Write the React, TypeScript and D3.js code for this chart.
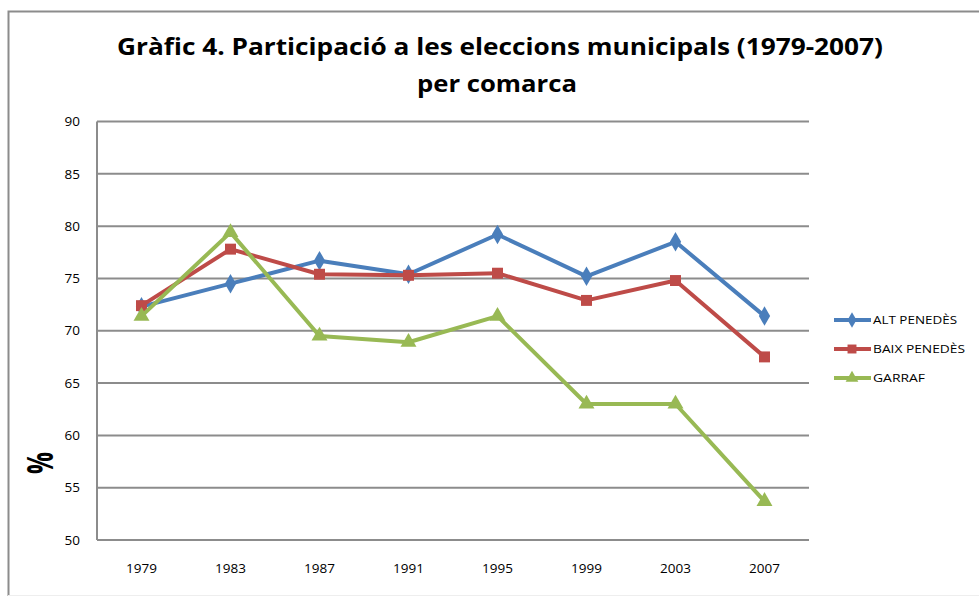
import React, { useEffect, useRef } from "react";
import * as d3 from "d3";

// data
const years = ["1979", "1983", "1987", "1991", "1995", "1999", "2003", "2007"];
const altPenedes = [72.3, 74.5, 76.7, 75.4, 79.2, 75.2, 78.5, 71.4];
const baixPenedes = [72.4, 77.8, 75.4, 75.3, 75.5, 72.9, 74.8, 67.5];
const garraf = [71.4, 79.4, 69.5, 68.9, 71.4, 63.0, 63.0, 53.7];
const yTicks = [50, 55, 60, 65, 70, 75, 80, 85, 90];

const seriesNames = ["ALT PENEDÈS", "BAIX PENEDÈS", "GARRAF"];
const colors = ["#4a7ebb", "#be4b48", "#98b954"];
const symbols = [d3.symbolDiamond, d3.symbolSquare, d3.symbolTriangle];

const App = () => {
  const ref = useRef<SVGSVGElement>(null);

  useEffect(() => {
    const width = 979;
    const height = 596;
    const margin = { top: 121.5, right: 170, bottom: 56, left: 97 };
    const svg = d3.select(ref.current);
    svg.selectAll("*").remove();
    svg.attr("width", width).attr("height", height);

    const font = "'Open Sans', 'Noto Sans', sans-serif";

    // outer frame
    svg.append("path")
      .attr("d", `M8.5,${height} V11.5 H${width}`)
      .attr("fill", "none")
      .attr("stroke", "#8c8c8c")
      .attr("stroke-width", 2);
    svg.append("line")
      .attr("x1", 8).attr("x2", width).attr("y1", 595.5).attr("y2", 595.5)
      .attr("stroke", "#eeeeee");

    // title
    const title = svg.append("text")
      .attr("text-anchor", "middle")
      .attr("font-family", font)
      .attr("font-weight", "bold")
      .attr("font-size", 23)
      .attr("fill", "#000");
    title.append("tspan").attr("x", 500).attr("y", 55)
      .attr("textLength", 766).attr("lengthAdjust", "spacingAndGlyphs")
      .text("Gràfic 4. Participació a les eleccions municipals (1979-2007)");
    title.append("tspan").attr("x", 497).attr("y", 92)
      .attr("textLength", 160).attr("lengthAdjust", "spacingAndGlyphs")
      .text("per comarca");

    const x = d3.scaleBand().domain(years).range([margin.left, width - margin.right]);
    const y = d3.scaleLinear().domain([50, 90]).range([height - margin.bottom, margin.top]);

    // gridlines
    svg.append("g").selectAll("line").data(yTicks).join("line")
      .attr("x1", margin.left).attr("x2", width - margin.right)
      .attr("y1", d => y(d)).attr("y2", d => y(d))
      .attr("stroke", "#8c8c8c").attr("stroke-width", 2);

    // y axis line
    svg.append("line")
      .attr("x1", margin.left).attr("x2", margin.left)
      .attr("y1", y(90)).attr("y2", y(50))
      .attr("stroke", "#8c8c8c").attr("stroke-width", 2);

    // y tick labels
    svg.append("g").selectAll("text").data(yTicks).join("text")
      .attr("x", 80).attr("y", d => y(d)).attr("dy", "0.35em")
      .attr("text-anchor", "end")
      .attr("font-family", font).attr("font-size", 13.5)
      .text(d => d);

    // x tick labels
    svg.append("g").selectAll("text").data(years).join("text")
      .attr("x", d => x(d)! + x.bandwidth() / 2).attr("y", 573)
      .attr("text-anchor", "middle")
      .attr("font-family", font).attr("font-size", 13.5)
      .text(d => d);

    // garbled y-axis title
    svg.append("text")
      .attr("transform", "translate(53,463) rotate(-90)")
      .attr("text-anchor", "middle")
      .attr("font-family", font).attr("font-weight", "bold").attr("font-size", 36)
      .attr("textLength", 22).attr("lengthAdjust", "spacingAndGlyphs")
      .text("%");

    const data = [altPenedes, baixPenedes, garraf];
    const line = d3.line<number>()
      .x((d, i) => x(years[i])! + x.bandwidth() / 2)
      .y(d => y(d));

    data.forEach((values, s) => {
      svg.append("path")
        .attr("d", line(values))
        .attr("fill", "none")
        .attr("stroke", colors[s])
        .attr("stroke-width", 4)
        .attr("stroke-linejoin", "round");
      svg.append("g").selectAll("path").data(values).join("path")
        .attr("transform", (d, i) => `translate(${x(years[i])! + x.bandwidth() / 2},${y(d)})`)
        .attr("d", d3.symbol(symbols[s], s === 1 ? 120 : 110)())
        .attr("fill", colors[s]);
    });

    // legend
    const legend = svg.append("g").attr("transform", "translate(834,320)");
    seriesNames.forEach((name, i) => {
      const row = legend.append("g").attr("transform", `translate(0,${i * 29})`);
      row.append("line")
        .attr("x1", 0).attr("x2", 37).attr("y1", 0).attr("y2", 0)
        .attr("stroke", colors[i]).attr("stroke-width", 4);
      row.append("path")
        .attr("transform", "translate(18,0)")
        .attr("d", d3.symbol(symbols[i], i === 1 ? 80 : 70)())
        .attr("fill", colors[i]);
      row.append("text")
        .attr("x", 39).attr("y", 0).attr("dy", "0.35em")
        .attr("font-family", font).attr("font-size", 11)
        .attr("textLength", i === 0 ? 84 : i === 1 ? 92 : 52)
        .attr("lengthAdjust", "spacingAndGlyphs")
        .text(name);
    });
  }, []);

  return <svg ref={ref} style={{ position: "absolute", left: 0, top: 0 }}></svg>;
};

export default App;
